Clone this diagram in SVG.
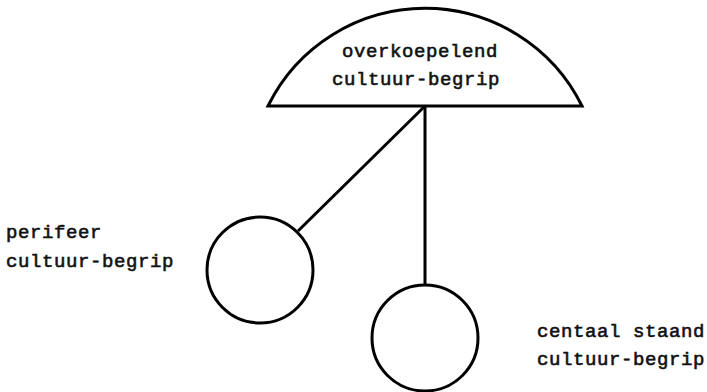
<svg xmlns="http://www.w3.org/2000/svg" width="707" height="392" viewBox="0 0 707 392">
<style>
.shape{fill:#fff;stroke:#000;stroke-width:3}
.conn{stroke:#000;stroke-width:3;fill:none}
text{font-family:"Liberation Mono","DejaVu Sans Mono",monospace;font-size:19px;letter-spacing:0.6px;fill:#111;stroke:#111;stroke-width:0.6px}
</style>
<rect width="707" height="392" fill="#fff"/>
<g id="connectors">
<line class="conn" x1="425" y1="106" x2="298" y2="231"/>
<line class="conn" x1="425" y1="106" x2="425" y2="285"/>
</g>
<g id="overkoepelend">
<path class="shape" d="M268,106 A175,175 0 0 1 582,106 Z"/>
<text x="342" y="57">overkoepelend</text>
<text x="332" y="85">cultuur-begrip</text>
</g>
<g id="perifeer">
<circle class="shape" cx="260" cy="270" r="53"/>
<text x="6" y="238">perifeer</text>
<text x="6" y="267">cultuur-begrip</text>
</g>
<g id="centraal">
<circle class="shape" cx="425" cy="338" r="53"/>
<text x="537" y="337">centaal staand</text>
<text x="537" y="365">cultuur-begrip</text>
</g>
</svg>
